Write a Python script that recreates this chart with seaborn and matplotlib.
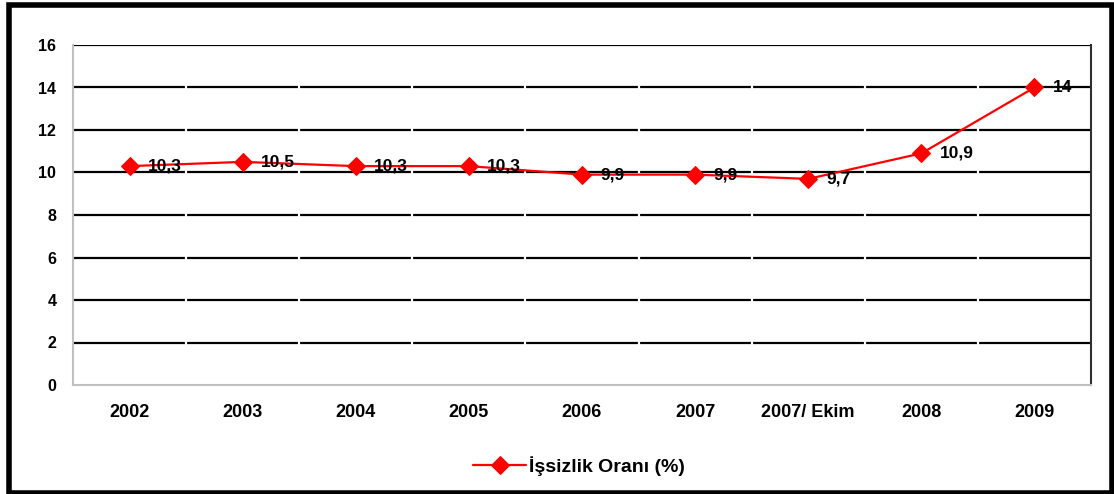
import matplotlib
matplotlib.use("Agg")
import matplotlib.pyplot as plt
from matplotlib.patches import Rectangle
import seaborn as sns
import pandas as pd

periods = ["2002", "2003", "2004", "2005", "2006", "2007", "2007/ Ekim", "2008", "2009"]
rates = [10.3, 10.5, 10.3, 10.3, 9.9, 9.9, 9.7, 10.9, 14]
series_name = "İşsizlik Oranı (%)"
y_ticks = [0, 2, 4, 6, 8, 10, 12, 14, 16]

sns.set_style("white")
plt.rcParams["font.family"] = ["Liberation Sans", "DejaVu Sans"]
plt.rcParams["font.weight"] = "bold"
for key in ["text.color", "xtick.color", "ytick.color", "axes.labelcolor"]:
    plt.rcParams[key] = "black"

df = pd.DataFrame({"period": periods, "rate": rates})

fig = plt.figure(figsize=(11.14, 4.94), dpi=100)
ax = fig.add_axes([73 / 1114, 109 / 494, 1018 / 1114, 340 / 494])

sns.lineplot(data=df, x="period", y="rate", sort=False, color="#ff0000",
             linewidth=1.6, marker="D", markersize=9, markeredgecolor="#ff0000",
             label=series_name, ax=ax, zorder=5, legend=False)

ax.set_xlim(-0.5, len(periods) - 0.5)
ax.set_ylim(0, 16)
ax.set_yticks(y_ticks)
ax.set_yticklabels([str(t) for t in y_ticks], fontsize=11.5, fontweight="bold")
ax.set_xticks(range(len(periods)))
ax.set_xticklabels(periods, fontsize=13, fontweight="bold")
ax.tick_params(axis="y", length=0, pad=12)
ax.tick_params(axis="x", length=0, pad=14)
ax.set_xlabel("")
ax.set_ylabel("")

# horizontal gridlines, broken by thin white separators between categories
ax.hlines(y_ticks[1:], -0.5, len(periods) - 0.5, colors="black", linewidth=1.6, zorder=1)
ax.vlines([i + 0.5 for i in range(len(periods) - 1)], 0.05, 15.9, colors="white",
          linewidth=1.6, zorder=2)

for side in ["left", "bottom"]:
    ax.spines[side].set_color("#c0c0c0")
    ax.spines[side].set_linewidth(1.5)
ax.spines["right"].set_color("#303030")
ax.spines["right"].set_linewidth(1.5)
ax.spines["top"].set_visible(False)

# value labels next to each point
for i, v in enumerate(rates):
    txt = f"{v:g}".replace(".", ",")
    ax.annotate(txt, (i, v), xytext=(13, 0), textcoords="offset points",
                ha="left", va="center", fontsize=12.5, fontweight="bold",
                color="black", zorder=6)

handles = ax.get_lines()[:1]
fig.legend(handles, [series_name], loc="center", bbox_to_anchor=(579 / 1114, 28 / 494),
           frameon=False, handlelength=2.7, handletextpad=0.15,
           prop={"weight": "bold", "size": 14})

# outer chart frame
fig.patches.append(Rectangle((9 / 1114, 1.5 / 494), 1103 / 1114, 487 / 494,
                             transform=fig.transFigure, fill=False,
                             edgecolor="black", linewidth=4))

fig.savefig("out.png", dpi=100)
